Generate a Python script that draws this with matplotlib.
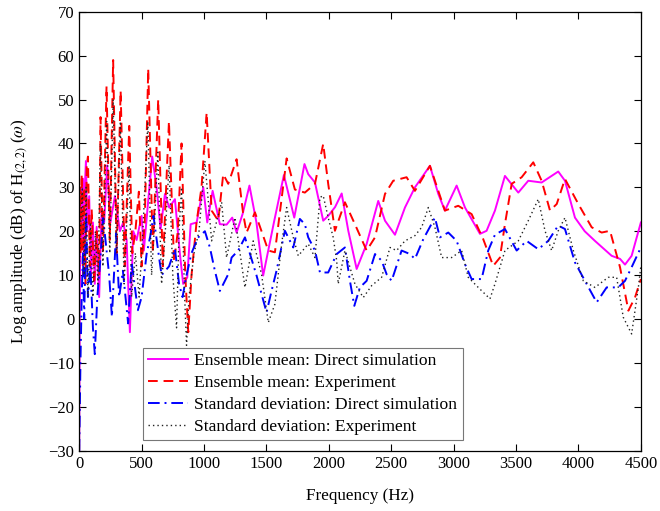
import matplotlib
matplotlib.use("Agg")
import matplotlib.pyplot as plt

# Ensemble mean: Direct simulation
f_mean_sim = [0, 4, 8, 14, 20, 28, 36, 45, 54, 65, 80, 95, 110, 125, 140, 160, 180, 200, 224, 250,
              286, 326, 353, 380, 406, 433, 460, 500, 518, 553, 585, 620, 652, 687, 721, 767, 807,
              833, 866, 893, 941, 994, 1026, 1069, 1127, 1181, 1226, 1261, 1310, 1364, 1420, 1474,
              1560, 1640, 1723, 1805, 1835, 1889, 1955, 1995, 2050, 2103, 2156, 2223, 2303, 2396,
              2450, 2530, 2610, 2690, 2810, 2877, 2930, 3024, 3091, 3211, 3264, 3331, 3411, 3518,
              3598, 3705, 3838, 3892, 3972, 4050, 4132, 4266, 4333, 4373, 4426, 4500]
v_mean_sim = [-30, 0, 20, 30, 18, 32, 15, 30, 36, 20, 28, 10, 22, 8, 21, 5, 25, 22, 35, 22,
              28, 20, 22, 18, -3, 20, 18, 23.5, 15.6, 27, 37, 30, 20.5, 28.5, 25.4, 27.3, 14.8,
              8, 9.5, 21.6, 22, 30, 22, 29.2, 21.6, 21.5, 23.1, 19.7, 24, 30.4, 22, 9.9,
              22, 32.8, 23.1, 35.3, 33, 31.1, 22.4, 23.5, 25.5, 28.6, 20.1, 11.4, 17.1, 26.9,
              22.4, 19.2, 25.4, 30, 34.9, 28.5, 24.7, 30.4, 25.4, 19.4, 20.1, 24.7, 32.6, 28.8,
              31.5, 31.1, 33.6, 31.5, 23.1, 20, 17.8, 14.4, 13.7, 12.4, 14.4, 22]

# Ensemble mean: Experiment
f_mean_exp = [0, 5, 12, 20, 30, 40, 50, 60, 70, 85, 100, 120, 140, 160, 171, 190, 219, 245, 272,
              300, 332, 365, 401, 425, 450, 478, 500, 525, 553, 590, 633, 670, 719, 760, 790, 820,
              850, 874, 900, 940, 980, 1021, 1061, 1114, 1154, 1194, 1261, 1314, 1341, 1408, 1515,
              1568, 1662, 1728, 1808, 1889, 1955, 1995, 2049, 2129, 2209, 2303, 2370, 2450, 2516,
              2623, 2690, 2810, 2930, 3037, 3144, 3237, 3317, 3371, 3411, 3465, 3545, 3638, 3705,
              3772, 3826, 3892, 3999, 4106, 4186, 4253, 4333, 4400, 4453, 4500]
v_mean_exp = [25, 30, 15, 33, 10, 30, 8, 35, 37, 12, 25, 8, 20, 10, 46, 15, 53, 18, 59,
              15, 52, 12, 44, 15, 20, 29, 12, 22, 57, 15, 50, 12, 45, 13, 20, 40,
              10, -3, 10, 22, 30, 47, 24.7, 22.4, 33, 30.8, 36.4, 23.9, 19.7, 24.3, 15.6,
              15.2, 36.6, 29.5, 28.8, 30.8, 39.9, 30.8, 20.1, 26.6, 21.6, 15.6, 18.6, 28.5, 31.5,
              32.3, 29.2, 34.9, 24.7, 25.8, 23.9, 18.2, 12.1, 14, 21.6, 30.8, 32.3, 35.7, 31.5,
              24.7, 26.2, 31.9, 26.2, 20.9, 19.7, 20.1, 11.8, 1.9, 4.9, 9.1]

# Standard deviation: Direct simulation
f_std_sim = [0, 10, 20, 30, 40, 55, 70, 90, 110, 125, 145, 165, 192, 240, 262, 295, 320, 350, 392,
             420, 470, 500, 540, 570, 595, 640, 660, 720, 767, 800, 828, 860, 900, 950, 1007,
             1047, 1087, 1127, 1194, 1221, 1274, 1328, 1420, 1501, 1541, 1581, 1648, 1715, 1768,
             1808, 1835, 1889, 1929, 1995, 2063, 2129, 2169, 2204, 2249, 2303, 2370, 2423, 2463,
             2503, 2583, 2650, 2690, 2757, 2850, 2890, 2957, 3024, 3091, 3144, 3224, 3277, 3331,
             3411, 3505, 3585, 3678, 3758, 3838, 3892, 3972, 4052, 4146, 4226, 4319, 4373, 4426,
             4500]
v_std_sim = [-30, -10, 5, 15, 0, 24, 5, 12, -2, -8, 5, 12, 23, 10, 0.5, 19.5, 5, 11, -1,
             13, 2, 5, 14.8, 19, 23.5, 14, 10, 12, 16, 8, 5, 10, 15, 18.5, 20,
             16.3, 11, 6.4, 10.2, 14, 15.6, 18.6, 10, 1.5, 6.4, 11, 20.1, 16.3, 22.8,
             21.6, 18.6, 15.6, 10.6, 10.6, 14.8, 16.3, 8.7, 3, 7.2, 8.7, 14.8, 13.3, 10.2,
             8.7, 15.6, 14.8, 13.7, 18.2, 23.1, 18.6, 19.7, 17.8, 12.5, 9.1, 9.1, 15.6, 19.2,
             20.5, 15.6, 17.8, 15.9, 17.8, 21.3, 20.5, 12.9, 8.7, 3.8, 7.2, 7.2, 8.7, 11.8,
             16.3]

# Standard deviation: Experiment
f_std_exp = [0, 10, 25, 40, 55, 70, 90, 110, 130, 150, 170, 190, 220, 245, 272, 300, 330, 360,
             400, 420, 450, 480, 510, 550, 580, 600, 630, 660, 690, 720, 750, 780, 800, 820, 845,
             860, 880, 920, 960, 1007, 1061, 1141, 1181, 1248, 1328, 1394, 1461, 1515, 1568, 1622,
             1662, 1715, 1755, 1835, 1889, 1929, 1955, 1995, 2035, 2063, 2075, 2129, 2209, 2276,
             2343, 2423, 2490, 2543, 2610, 2690, 2744, 2797, 2850, 2904, 2984, 3064, 3117, 3197,
             3291, 3331, 3411, 3518, 3598, 3678, 3732, 3785, 3838, 3892, 3959, 4039, 4132, 4239,
             4306, 4359, 4426, 4480, 4500]
v_std_exp = [10, 20, 30, 10, 30, 5, 22, 5, 20, 8, 40, 12, 45, 15, 50, 15, 45, 8,
             35, 5, 15, 5, 20, 45, 10, 20, 38, 8, 20, 35, 10, -2, 20, 30, 5,
             -6, 5, 15, 20, 36, 17.8, 26.6, 14, 23.1, 7.2, 17.8, 10.2, -0.8, 3.4, 17.1,
             25.4, 18.6, 14.4, 17.1, 14, 27.7, 28.1, 23.1, 18.6, 13.3, 8, 15.6, 8, 4.9,
             7.6, 9.5, 16.3, 15.6, 17.8, 19, 20.9, 25.4, 20.9, 14, 14, 15.6, 9.5, 7.2,
             4.6, 8, 15.6, 17.8, 22.4, 27.3, 20.1, 15.6, 20.1, 23.1, 15.6, 8.7, 7.2, 9.5,
             9.5, 0.4, -3.4, 7.2, 12]

labels = ["Ensemble mean: Direct simulation", "Ensemble mean: Experiment",
          "Standard deviation: Direct simulation", "Standard deviation: Experiment"]
x_ticks = [0, 500, 1000, 1500, 2000, 2500, 3000, 3500, 4000, 4500]
y_ticks = [-30, -20, -10, 0, 10, 20, 30, 40, 50, 60, 70]

plt.rcParams['font.family'] = ['Liberation Serif', 'DejaVu Serif']
plt.rcParams['mathtext.fontset'] = 'stix'

fig = plt.figure(figsize=(6.6, 5.11), dpi=100)
ax = fig.add_axes([0.120, 0.118, 0.851, 0.859])

ax.plot(f_mean_sim, v_mean_sim, color='#ff00ff', lw=1.4, ls='-', label=labels[0])
ax.plot(f_mean_exp, v_mean_exp, color='#ff0000', lw=1.4, ls=(0, (5, 3)), label=labels[1])
ax.plot(f_std_sim, v_std_sim, color='#0000ff', lw=1.4, ls=(0, (6, 2.5, 1, 2.5)), label=labels[2])
ax.plot(f_std_exp, v_std_exp, color='#222222', lw=1.0, ls=(0, (1, 2.2)), label=labels[3])

ax.set_xlim(0, 4500)
ax.set_ylim(-30, 70)
ax.set_xticks(x_ticks)
ax.set_yticks(y_ticks)
ax.tick_params(direction='in', top=True, right=True, labelsize=12, length=5, width=0.8)
for s in ax.spines.values():
    s.set_linewidth(0.9)

ax.set_xlabel('Frequency (Hz)', fontsize=12.3)
ax.set_ylabel(r'Log amplitude (dB) of H$_{(2,2)}$ ($\omega$)', fontsize=12.3)
ax.xaxis.set_label_coords(0.5, -0.085)
ax.yaxis.set_label_coords(-0.088, 0.5)

leg = ax.legend(loc='lower left', bbox_to_anchor=(0.113, 0.024), fontsize=12.6,
                frameon=True, fancybox=False, edgecolor='#555555', handlelength=2.3,
                borderpad=0.3, labelspacing=0.32, handletextpad=0.35, borderaxespad=0)
leg.get_frame().set_linewidth(0.8)

fig.savefig('out.png', dpi=100)
